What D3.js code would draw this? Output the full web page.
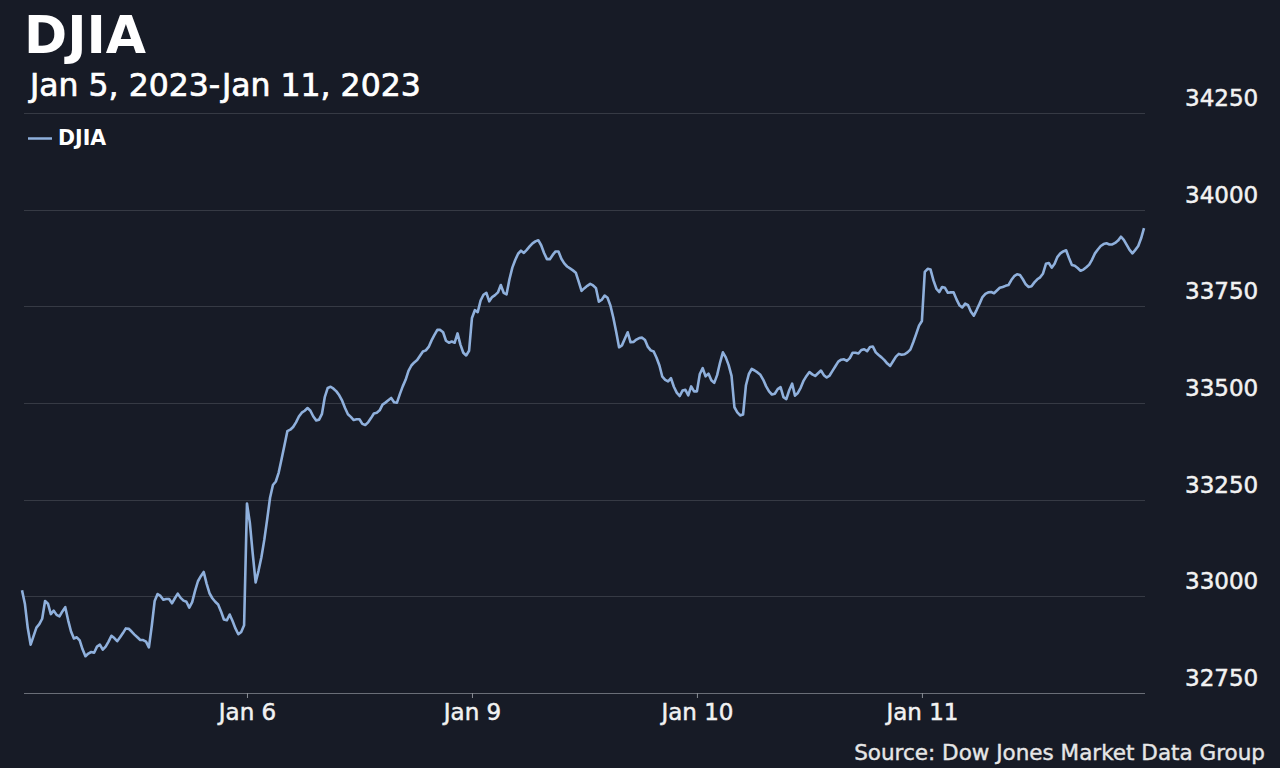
<!DOCTYPE html>
<html>
<head>
<meta charset="utf-8">
<script src="https://cdn.jsdelivr.net/npm/d3@7"></script>
<style>
  html, body { margin: 0; padding: 0; background: #171b26; }
  svg { display: block; }
  text { font-family: "DejaVu Sans", "Liberation Sans", sans-serif; }
</style>
</head>
<body>
<svg id="chart" width="1280" height="768"></svg>
<script>
// ---- Data (5-minute samples per trading session) ----
const sessions = ["Jan 5", "Jan 6", "Jan 9", "Jan 10", "Jan 11"];
const jan5 = [33016,32981,32918,32875,32897,32919,32928,32942,32988,32981,
  32954,32963,32952,32948,32961,32972,32938,32909,32891,32894,
  32886,32863,32845,32852,32856,32854,32870,32875,32862,32870,
  32883,32898,32892,32884,32894,32905,32917,32916,32909,32901,
  32894,32887,32887,32883,32868,32924,32988,33006,33001,32991,
  32993,32993,32982,32995,33007,32996,32989,32986,32971,32985,
  33014,33039,33052,33063,33033,33008,32995,32986,32979,32961,
  32940,32938,32953,32936,32917,32902,32908,32925];
const jan6 = [33240,33190,33110,33036,33066,33101,33146,33199,33255,33288,
  33297,33320,33355,33391,33427,33431,33438,33450,33465,33475,
  33480,33487,33480,33465,33455,33457,33472,33516,33539,33542,
  33537,33530,33520,33506,33487,33471,33464,33456,33458,33458,
  33446,33443,33450,33461,33473,33475,33481,33496,33501,33507,
  33513,33502,33501,33523,33543,33560,33583,33597,33605,33611,
  33622,33633,33636,33645,33662,33676,33689,33689,33683,33661,
  33656,33659,33656,33680,33651,33630,33623,33635];
const jan9 = [33720,33740,33735,33765,33780,33785,33763,33774,33779,33786,
  33805,33785,33781,33820,33850,33870,33886,33894,33888,33896,
  33905,33913,33918,33921,33908,33888,33872,33872,33883,33892,
  33892,33873,33861,33853,33848,33843,33837,33814,33790,33797,
  33803,33808,33804,33797,33762,33767,33778,33772,33752,33721,
  33684,33644,33649,33666,33683,33657,33658,33664,33668,33669,
  33663,33645,33636,33633,33617,33597,33568,33560,33556,33564,
  33542,33527,33518,33532,33534,33520,33543,33530];
const jan10 = [33530,33575,33590,33569,33576,33559,33552,33572,33604,33631,
  33618,33598,33570,33489,33476,33468,33470,33546,33575,33588,
  33584,33579,33573,33560,33543,33530,33522,33524,33536,33541,
  33515,33510,33533,33550,33519,33526,33540,33558,33570,33580,
  33574,33570,33577,33584,33572,33566,33571,33583,33595,33607,
  33612,33613,33609,33616,33630,33630,33628,33637,33639,33634,
  33645,33646,33631,33624,33618,33611,33602,33596,33608,33620,
  33627,33625,33626,33631,33638,33657,33678,33700];
const jan11 = [33712,33839,33847,33845,33817,33796,33787,33800,33798,33785,
  33786,33786,33768,33753,33747,33757,33753,33736,33726,33741,
  33757,33774,33782,33786,33787,33784,33791,33798,33800,33803,
  33805,33818,33828,33833,33831,33820,33807,33800,33802,33812,
  33820,33825,33835,33860,33862,33850,33860,33878,33887,33892,
  33895,33875,33857,33855,33849,33842,33845,33851,33858,33871,
  33887,33897,33906,33911,33913,33910,33910,33914,33920,33930,
  33922,33909,33896,33887,33896,33906,33926,33952];
const dayValues = [jan5, jan6, jan9, jan10, jan11];
const xTickLabels = ["Jan 6", "Jan 9", "Jan 10", "Jan 11"];
const yTicks = [32750, 33000, 33250, 33500, 33750, 34000, 34250];
const seriesName = "DJIA";
const titleText = "DJIA";
const subtitleText = "Jan 5, 2023-Jan 11, 2023";
const sourceText = "Source: Dow Jones Market Data Group";

// ---- Layout ----
const W = 1280, H = 768;
const SESSION_MIN = 390, STEP = 5;
const plotLeft = 22, plotRight = 1145, plotTop = 113, plotBottom = 693;
const lineColor = "#8fb0dc";

// Build series: minutes since first open (sessions stitched end to end)
const points = [];
dayValues.forEach((vals, d) => {
  vals.forEach((v, k) => points.push({ t: d * SESSION_MIN + k * STEP, v }));
});
const lastT = points[points.length - 1].t;

const x = d3.scaleLinear().domain([0, lastT]).range([plotLeft, 1144]);
const y = d3.scaleLinear().domain([32750, 34250]).range([plotBottom, plotTop]);

const svg = d3.select("#chart");
svg.append("rect").attr("width", W).attr("height", H).attr("fill", "#171b26");

// Gridlines
svg.append("g").selectAll("line")
  .data(yTicks.filter(t => t !== 32750))
  .join("line")
  .attr("x1", plotLeft + 2).attr("x2", plotRight)
  .attr("y1", d => Math.round(y(d)) + 0.5).attr("y2", d => Math.round(y(d)) + 0.5)
  .attr("stroke", "#363a44").attr("stroke-width", 1);

// Y labels (right side, above gridlines)
svg.append("g").selectAll("text")
  .data(yTicks)
  .join("text")
  .attr("x", 1185)
  .attr("y", d => y(d) - 7)
  .attr("fill", "#f2f2f2")
  .attr("stroke", "#f2f2f2").attr("stroke-width", 0.5)
  .attr("font-size", 23)
  .text(d => d);

// X axis baseline + ticks
const xAxis = d3.axisBottom(x)
  .tickValues(xTickLabels.map((_, i) => (i + 1) * SESSION_MIN))
  .tickFormat((d, i) => xTickLabels[i])
  .tickSize(5)
  .tickPadding(6);
const gx = svg.append("g").attr("transform", `translate(0,${plotBottom})`).call(xAxis);
gx.select(".domain").attr("d", `M${plotLeft + 2},0.5H${plotRight}`).attr("stroke", "#6a6e77");
gx.selectAll(".tick line").attr("stroke", "#8a8e96");
gx.selectAll(".tick text")
  .attr("fill", "#f2f2f2")
  .attr("stroke", "#f2f2f2").attr("stroke-width", 0.5)
  .attr("font-size", 23)
  .attr("font-family", "DejaVu Sans");

// Line
const line = d3.line().x(d => x(d.t)).y(d => y(d.v)).curve(d3.curveLinear);
svg.append("path")
  .datum(points)
  .attr("d", line)
  .attr("fill", "none")
  .attr("stroke", lineColor)
  .attr("stroke-width", 2.6)
  .attr("stroke-linejoin", "round");

// Title & subtitle
svg.append("text").attr("x", 24).attr("y", 53)
  .attr("fill", "#ffffff").attr("font-size", 52).attr("font-weight", "bold")
  .text(titleText);
svg.append("text").attr("x", 30).attr("y", 96)
  .attr("fill", "#ffffff").attr("stroke", "#ffffff").attr("stroke-width", 0.7)
  .attr("font-size", 31.5)
  .text(subtitleText);

// Legend
svg.append("line").attr("x1", 28).attr("x2", 52).attr("y1", 138.5).attr("y2", 138.5)
  .attr("stroke", lineColor).attr("stroke-width", 2.5);
svg.append("text").attr("x", 58).attr("y", 145)
  .attr("fill", "#ffffff").attr("font-size", 20.5).attr("font-weight", "bold")
  .text(seriesName);

// Source
svg.append("text").attr("x", 1265).attr("y", 760)
  .attr("text-anchor", "end")
  .attr("fill", "#e6e6e6").attr("stroke", "#e6e6e6").attr("stroke-width", 0.4)
  .attr("font-size", 21.5)
  .text(sourceText);
</script>
</body>
</html>
